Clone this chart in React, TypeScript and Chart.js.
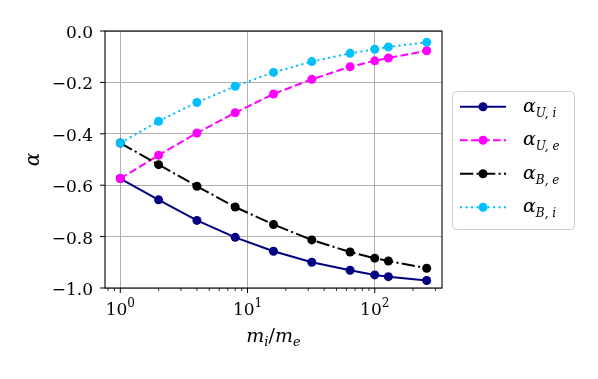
import React, { useEffect, useRef } from "react";
import { Chart, registerables } from "chart.js";

Chart.register(...registerables);

// ---- data ----
const massRatio = [1, 2, 4, 8, 16, 32, 64, 100, 128, 256];
const alphaUi = [-0.574, -0.657, -0.737, -0.803, -0.857, -0.9, -0.931, -0.949, -0.956, -0.971];
const alphaUe = [-0.574, -0.483, -0.397, -0.318, -0.245, -0.188, -0.139, -0.116, -0.105, -0.077];
const alphaBe = [-0.436, -0.52, -0.604, -0.685, -0.753, -0.813, -0.86, -0.884, -0.895, -0.923];
const alphaBi = [-0.436, -0.351, -0.278, -0.215, -0.161, -0.119, -0.087, -0.071, -0.062, -0.044];

const seriesNames = ["α_{U,i}", "α_{U,e}", "α_{B,e}", "α_{B,i}"];
const seriesSubscripts = ["U, i", "U, e", "B, e", "B, i"];
const seriesColors = ["#000080", "#ff00ff", "#000000", "#00bfff"];
const seriesDashes: number[][] = [[], [7.7, 3.3], [13.3, 3.3, 2.1, 3.3], [2.1, 3.4]];

const yTickValues = [-1.0, -0.8, -0.6, -0.4, -0.2, 0.0];
const yTickLabels = ["−1.0", "−0.8", "−0.6", "−0.4", "−0.2", "0.0"];
const xMajorTicks = [1, 10, 100];
const xMajorExponents = ["0", "1", "2"];
const xMinorTicks = [0.8, 0.9, 2, 3, 4, 5, 6, 7, 8, 9, 20, 30, 40, 50, 60, 70, 80, 90, 200, 300];

const SERIF = "'DejaVu Serif', serif";

type Seg = { t: string; f: string; dy: number };

function segsWidth(ctx: CanvasRenderingContext2D, segs: Seg[]) {
  let w = 0;
  for (const s of segs) {
    ctx.font = s.f;
    w += ctx.measureText(s.t).width;
  }
  return w;
}

function drawSegs(ctx: CanvasRenderingContext2D, segs: Seg[], x: number, y: number) {
  let cx = x;
  ctx.textAlign = "left";
  ctx.textBaseline = "alphabetic";
  for (const s of segs) {
    ctx.font = s.f;
    ctx.fillText(s.t, cx, y + s.dy);
    cx += ctx.measureText(s.t).width;
  }
}

const decor = {
  id: "decor",
  afterDatasetsDraw(chart: any) {
    const ctx: CanvasRenderingContext2D = chart.ctx;
    const a = chart.chartArea;
    const xs = chart.scales.x;
    const ys = chart.scales.y;
    ctx.save();
    ctx.strokeStyle = "#000";
    ctx.fillStyle = "#000";
    ctx.lineWidth = 1.1;
    ctx.setLineDash([]);
    // frame
    ctx.strokeRect(a.left, a.top, a.right - a.left, a.bottom - a.top);

    // x ticks
    ctx.lineWidth = 1;
    for (const v of xMajorTicks) {
      const px = xs.getPixelForValue(v);
      ctx.beginPath();
      ctx.moveTo(px, a.bottom);
      ctx.lineTo(px, a.bottom + 5);
      ctx.stroke();
    }
    ctx.lineWidth = 0.8;
    for (const v of xMinorTicks) {
      const px = xs.getPixelForValue(v);
      ctx.beginPath();
      ctx.moveTo(px, a.bottom);
      ctx.lineTo(px, a.bottom + 3);
      ctx.stroke();
    }
    // y ticks
    ctx.lineWidth = 1;
    for (const v of yTickValues) {
      const py = ys.getPixelForValue(v);
      ctx.beginPath();
      ctx.moveTo(a.left - 5, py);
      ctx.lineTo(a.left, py);
      ctx.stroke();
    }

    // y tick labels
    ctx.font = `17px ${SERIF}`;
    ctx.textAlign = "right";
    ctx.textBaseline = "alphabetic";
    yTickValues.forEach((v, i) => {
      const py = ys.getPixelForValue(v);
      ctx.fillText(yTickLabels[i], a.left - 12, py + 7);
    });

    // x tick labels 10^k
    xMajorTicks.forEach((v, i) => {
      const px = xs.getPixelForValue(v);
      const segs: Seg[] = [
        { t: "10", f: `17px ${SERIF}`, dy: 0 },
        { t: xMajorExponents[i], f: `12px ${SERIF}`, dy: -8 },
      ];
      const w = segsWidth(ctx, segs);
      drawSegs(ctx, segs, px - w / 2, a.bottom + 27);
    });

    // x axis title m_i / m_e
    const xt: Seg[] = [
      { t: "m", f: `italic 19px ${SERIF}`, dy: 0 },
      { t: "i", f: `italic 13px ${SERIF}`, dy: 4 },
      { t: "/", f: `19px ${SERIF}`, dy: 0 },
      { t: "m", f: `italic 19px ${SERIF}`, dy: 0 },
      { t: "e", f: `italic 13px ${SERIF}`, dy: 4 },
    ];
    const xtw = segsWidth(ctx, xt);
    drawSegs(ctx, xt, (a.left + a.right) / 2 - xtw / 2, 342);

    // y axis title alpha
    ctx.save();
    ctx.translate(38.5, (a.top + a.bottom) / 2);
    ctx.rotate(-Math.PI / 2);
    ctx.font = `italic 20px ${SERIF}`;
    ctx.textAlign = "center";
    ctx.textBaseline = "alphabetic";
    ctx.fillText("α", 0, 0);
    ctx.restore();

    // legend
    const lx = 452.5, ly = 91.5, lw = 122, lh = 138;
    ctx.beginPath();
    (ctx as any).roundRect(lx, ly, lw, lh, 4);
    ctx.fillStyle = "rgba(255,255,255,0.8)";
    ctx.fill();
    ctx.strokeStyle = "#cccccc";
    ctx.lineWidth = 1;
    ctx.stroke();
    seriesColors.forEach((c, i) => {
      const yy = 106.7 + i * 33.5;
      ctx.strokeStyle = c;
      ctx.fillStyle = c;
      ctx.lineWidth = 2;
      ctx.setLineDash(seriesDashes[i]);
      ctx.beginPath();
      ctx.moveTo(460, yy);
      ctx.lineTo(506, yy);
      ctx.stroke();
      ctx.setLineDash([]);
      ctx.beginPath();
      ctx.arc(483, yy, 4.5, 0, Math.PI * 2);
      ctx.fill();
      ctx.fillStyle = "#000";
      drawSegs(
        ctx,
        [
          { t: "α", f: `italic 19px ${SERIF}`, dy: 0 },
          { t: seriesSubscripts[i], f: `italic 12px ${SERIF}`, dy: 5 },
        ],
        523,
        yy + 5
      );
    });
    ctx.restore();
  },
};

export default function App() {
  const ref = useRef<HTMLCanvasElement>(null);
  useEffect(() => {
    const canvas = ref.current!;
    const seriesValues = [alphaUi, alphaUe, alphaBe, alphaBi];
    const chart = new Chart(canvas, {
      type: "line",
      data: {
        datasets: seriesValues.map((vals, i) => ({
          label: seriesNames[i],
          data: massRatio.map((m, j) => ({ x: m, y: vals[j] })),
          borderColor: seriesColors[i],
          backgroundColor: seriesColors[i],
          borderWidth: 2,
          borderDash: seriesDashes[i],
          pointRadius: 4.5,
          pointBorderWidth: 0,
          pointBackgroundColor: seriesColors[i],
          tension: 0,
          fill: false,
          clip: false,
          order: 3 - i,
        })),
      },
      options: {
        animation: false,
        responsive: false,
        devicePixelRatio: 1,
        layout: { padding: { left: 0, top: 31, right: 156, bottom: 0 } },
        plugins: { legend: { display: false }, tooltip: { enabled: false } },
        scales: {
          x: {
            type: "logarithmic",
            min: 0.758,
            max: 337.8,
            bounds: "data",
            afterBuildTicks: (s: any) => {
              s.ticks = xMajorTicks.map((v) => ({ value: v, major: true }));
            },
            afterFit: (s: any) => {
              s.height = 91;
            },
            ticks: { display: false },
            grid: { color: "#b0b0b0", lineWidth: 1, drawTicks: false },
            border: { display: false },
          },
          y: {
            type: "linear",
            min: -1,
            max: 0,
            afterBuildTicks: (s: any) => {
              s.ticks = yTickValues.map((v) => ({ value: v }));
            },
            afterFit: (s: any) => {
              s.width = 105;
            },
            ticks: { display: false },
            grid: { color: "#b0b0b0", lineWidth: 1, drawTicks: false },
            border: { display: false },
          },
        },
      } as any,
      plugins: [decor],
    });
    return () => chart.destroy();
  }, []);
  return (
    <div style={{ position: "fixed", left: 0, top: 0, width: 598, height: 379, background: "#fff" }}>
      <canvas ref={ref} width={598} height={379} style={{ display: "block" }} />
    </div>
  );
}
